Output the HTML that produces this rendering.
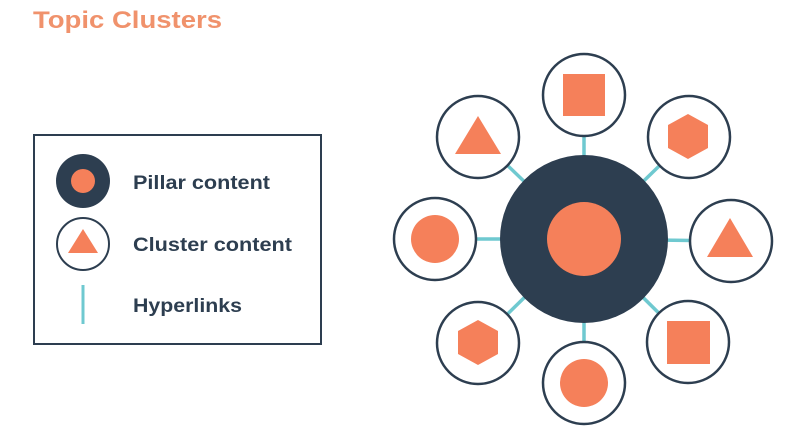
<!DOCTYPE html>
<html><head><style>
body{margin:0;width:800px;height:442px;background:#fff;overflow:hidden;font-family:"Liberation Sans",sans-serif}
</style></head><body>
<svg width="800" height="442" xmlns="http://www.w3.org/2000/svg">
<text x="33" y="28" font-size="24" font-weight="bold" fill="#f0926c" font-family="Liberation Sans" textLength="189" lengthAdjust="spacingAndGlyphs">Topic Clusters</text>
<rect x="34" y="135" width="287" height="209" fill="none" stroke="#2d3e50" stroke-width="2"/>
<circle cx="83" cy="181" r="27" fill="#2d3e50"/>
<circle cx="83" cy="181" r="12" fill="#f5805a"/>
<circle cx="83" cy="244" r="26" fill="#fff" stroke="#2d3e50" stroke-width="2"/>
<polygon points="83,229 98,253 68,253" fill="#f5805a"/>
<line x1="83" y1="285" x2="83" y2="324" stroke="#6fc9d0" stroke-width="3"/>
<g font-size="19" font-weight="bold" fill="#2d3e50" font-family="Liberation Sans">
<text x="133" y="189" textLength="137" lengthAdjust="spacingAndGlyphs">Pillar content</text>
<text x="133" y="251" textLength="159" lengthAdjust="spacingAndGlyphs">Cluster content</text>
<text x="133" y="312" textLength="109" lengthAdjust="spacingAndGlyphs">Hyperlinks</text>
</g>
<g stroke="#6fc9d0" stroke-width="3.5">
<line x1="584" y1="239" x2="584" y2="95"/>
<line x1="584" y1="239" x2="478" y2="137"/>
<line x1="584" y1="239" x2="689" y2="137"/>
<line x1="584" y1="239" x2="435" y2="239"/>
<line x1="584" y1="239" x2="731" y2="241"/>
<line x1="584" y1="239" x2="478" y2="343"/>
<line x1="584" y1="239" x2="584" y2="383"/>
<line x1="584" y1="239" x2="688" y2="342"/>
</g>
<circle cx="584" cy="239" r="84" fill="#2d3e50"/>
<circle cx="584" cy="239" r="37" fill="#f5805a"/>
<g fill="#fff" stroke="#2d3e50" stroke-width="2.5">
<circle cx="584" cy="95" r="41"/>
<circle cx="478" cy="137" r="41"/>
<circle cx="689" cy="137" r="41"/>
<circle cx="435" cy="239" r="41"/>
<circle cx="731" cy="241" r="41"/>
<circle cx="478" cy="343" r="41"/>
<circle cx="584" cy="383" r="41"/>
<circle cx="688" cy="342" r="41"/>
</g>
<g fill="#f5805a">
<rect x="563" y="74" width="42" height="42"/>
<polygon points="478,116 501,154 455,154"/>
<polygon points="688,114 708,125 708,148 688,159 668,148 668,125"/>
<circle cx="435" cy="239" r="24"/>
<polygon points="730,218 753,257 707,257"/>
<polygon points="478,320 498,331 498,354 478,365 458,354 458,331"/>
<circle cx="584" cy="383" r="24"/>
<rect x="667" y="321" width="43" height="43"/>
</g>
</svg>
</body></html>
